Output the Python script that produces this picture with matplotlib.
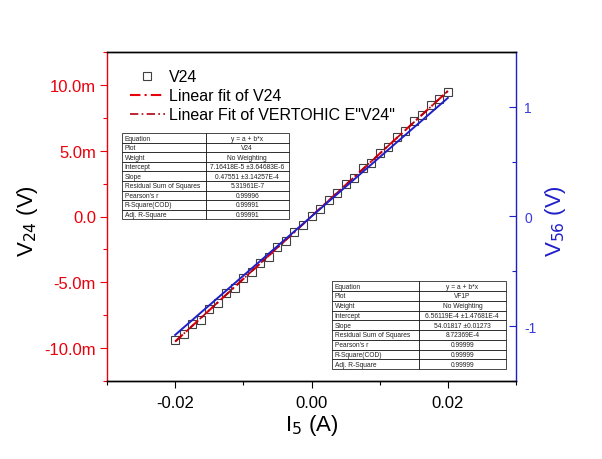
import numpy as np
import matplotlib.pyplot as plt
from matplotlib.ticker import MultipleLocator, FuncFormatter

plt.rcParams['font.family'] = ['Liberation Sans', 'DejaVu Sans']
plt.rcParams['axes.unicode_minus'] = False

# current I5 (A)
i5 = [-0.02, -0.01875, -0.0175, -0.01625, -0.015, -0.01375, -0.0125, -0.01125,
      -0.01, -0.00875, -0.0075, -0.00625, -0.005, -0.00375, -0.0025, -0.00125,
      0.0, 0.00125, 0.0025, 0.00375, 0.005, 0.00625, 0.0075, 0.00875,
      0.01, 0.01125, 0.0125, 0.01375, 0.015, 0.01625, 0.0175, 0.01875, 0.02]
# V24 in mV
v24_mv = [-9.40, -8.95, -8.20, -7.85, -7.05, -6.60, -5.85, -5.45,
          -4.70, -4.25, -3.50, -3.05, -2.30, -1.85, -1.15, -0.65,
          0.02, 0.60, 1.25, 1.80, 2.45, 2.95, 3.65, 4.10,
          4.85, 5.30, 6.05, 6.50, 7.25, 7.70, 8.45, 8.90, 9.45]
# V56 in V
v56 = [-1.080, -1.012, -0.945, -0.877, -0.810, -0.742, -0.675, -0.607,
       -0.540, -0.472, -0.405, -0.337, -0.270, -0.202, -0.135, -0.067,
       0.001, 0.068, 0.136, 0.203, 0.271, 0.338, 0.406, 0.473,
       0.541, 0.608, 0.676, 0.743, 0.811, 0.878, 0.946, 1.013, 1.081]

table1 = [["Equation", "y = a + b*x"],
          ["Plot", "V24"],
          ["Weight", "No Weighting"],
          ["Intercept", "7.16418E-5 ±3.64683E-6"],
          ["Slope", "0.47551 ±3.14257E-4"],
          ["Residual Sum of Squares", "5.31961E-7"],
          ["Pearson's r", "0.99996"],
          ["R-Square(COD)", "0.99991"],
          ["Adj. R-Square", "0.99991"]]
table2 = [["Equation", "y = a + b*x"],
          ["Plot", "VF1P"],
          ["Weight", "No Weighting"],
          ["Intercept", "6.56119E-4 ±1.47681E-4"],
          ["Slope", "54.01817 ±0.01273"],
          ["Residual Sum of Squares", "8.72369E-4"],
          ["Pearson's r", "0.99999"],
          ["R-Square(COD)", "0.99999"],
          ["Adj. R-Square", "0.99999"]]

x = np.array(i5)
y = np.array(v24_mv) / 1000.0
y56 = np.array(v56)

red = '#e8000b'
dred = '#b00010'
blue = '#1f1fc8'

fig = plt.figure(figsize=(6.02, 4.6), dpi=100)
ax = fig.add_axes([107 / 602, 1 - 382 / 460, 409 / 602, 329 / 460])
ax2 = ax.twinx()

ax.plot(x, y, 's', mfc='none', mec='#404040', ms=5.5, mew=0.8, label='V24', zorder=3)
b, a = np.polyfit(x, y, 1)
ax.plot(x, a + b * x, color=red, lw=1.5, ls=(0, (5, 2, 1, 2)), label='Linear fit of V24', zorder=4)
ax.plot(x, a + b * x, color=dred, lw=1.2, ls=(0, (5, 2, 1, 2)),
        label='Linear Fit of VERTOHIC E"V24"', zorder=4)
ax2.plot(x, y56, color=blue, lw=1.4, zorder=5)

ax.set_xlim(-0.03, 0.03)
ax.set_ylim(-0.0125, 0.0125)
ax2.set_ylim(-1.5, 1.5)

ax.xaxis.set_major_locator(MultipleLocator(0.02))
ax.xaxis.set_minor_locator(MultipleLocator(0.01))
ax.xaxis.set_major_formatter(FuncFormatter(lambda v, p: f"{v:.2f}"))
ax.yaxis.set_major_locator(MultipleLocator(0.005))
ax.yaxis.set_minor_locator(MultipleLocator(0.0025))
ax.yaxis.set_major_formatter(FuncFormatter(lambda v, p: "0.0" if abs(v) < 1e-9 else f"{v * 1000:.1f}m"))
ax2.yaxis.set_major_locator(MultipleLocator(1))
ax2.yaxis.set_minor_locator(MultipleLocator(0.5))
ax2.yaxis.set_major_formatter(FuncFormatter(lambda v, p: f"{v:.0f}"))

ax.tick_params(axis='x', which='major', direction='out', length=5, width=0.8, labelsize=12, pad=5)
ax.tick_params(axis='x', which='minor', direction='out', length=3, width=0.8)
ax.tick_params(axis='y', which='major', direction='out', length=5, width=0.8, colors=red, labelsize=12, pad=3)
ax.tick_params(axis='y', which='minor', direction='out', length=3, width=0.8, colors=red)
ax2.tick_params(axis='y', which='major', direction='in', length=5, width=0.8, colors=blue, labelsize=10, pad=6)
ax2.tick_params(axis='y', which='minor', direction='in', length=3, width=0.8, colors=blue)
for lbl in ax2.get_yticklabels():
    lbl.set_color('#3a3ae0')

ax.spines['left'].set_color(red)
ax.spines['right'].set_visible(False)
ax2.spines['left'].set_visible(False)
ax2.spines['right'].set_color(blue)
for s in ['left', 'right', 'top', 'bottom']:
    ax.spines[s].set_linewidth(1.0)
    ax2.spines[s].set_linewidth(1.0)

ax.set_xlabel('I$_5$ (A)', fontsize=16)
ax.xaxis.set_label_coords(0.5, -0.094)
ax.xaxis.label.set_va('top')
ax.set_ylabel('V$_{24}$ (V)', fontsize=16)
ax.yaxis.set_label_coords(-0.164, 0.49)
ax2.set_ylabel('V$_{56}$ (V)', fontsize=16, color=blue)
ax2.yaxis.set_label_coords(1.066, 0.49)

ax.legend(loc='upper left', bbox_to_anchor=(0.056, 0.948), frameon=False, fontsize=11.5,
          handlelength=2.2, handletextpad=0.25, labelspacing=0.25, borderpad=0, borderaxespad=0)


def draw_table(rows, bbox):
    t = ax2.table(cellText=rows, cellLoc='center', bbox=bbox, zorder=6)
    t.auto_set_font_size(False)
    t.set_fontsize(4.8)
    for (r, c), cell in t.get_celld().items():
        cell.set_linewidth(0.5)
        cell.set_edgecolor('black')
        cell.set_facecolor('white')
        cell.get_text().set_color('#222222')
        if c == 0:
            cell.get_text().set_ha('left')
            cell.PAD = 0.03
    return t


draw_table(table1, [0.037, 0.492, 0.408, 0.261])
draw_table(table2, [0.550, 0.036, 0.425, 0.267])

fig.savefig('out.png', dpi=100)
